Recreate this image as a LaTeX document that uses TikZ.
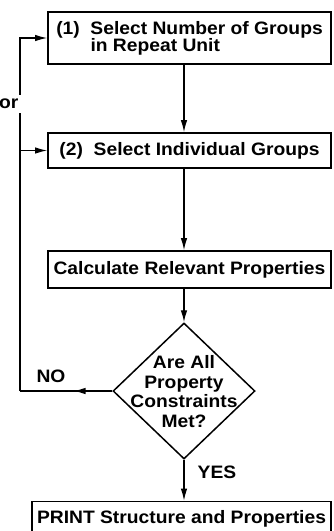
\documentclass[tikz,border=0pt]{standalone}
\usepackage{fontspec}
\setmainfont[FakeStretch=1.07]{Liberation Sans}
\usetikzlibrary{arrows.meta,decorations.markings,shapes.geometric}
\begin{document}
\begin{tikzpicture}[x=1pt,y=-1pt,
  txt/.style={font=\fontsize{18}{17}\selectfont\bfseries},
  box/.style={draw,line width=1.6pt,inner xsep=2pt,inner ysep=0pt,txt},
  conn/.style={line width=1.3pt},
  tip/.style={-{Latex[length=12pt,width=6.5pt]}},
  midtip/.style={decoration={markings,mark=at position 0.42 with {\arrow{Latex[length=12pt,width=6.5pt]}}},postaction=decorate}
]
\useasboundingbox (0,0) rectangle (333,531);
\node[box,align=left,minimum width=283pt,minimum height=52pt] (b1) at (189.5,38)
  {(1)\ \ Select Number of Groups\\\hphantom{(1)\ \ }in Repeat Unit};
\node[box,align=left,minimum width=283pt,minimum height=35pt] (b2) at (189.5,150.5)
  {(2)\ \ Select Individual Groups};
\node[box,align=center,minimum width=283pt,minimum height=37pt] (b3) at (189.5,269.5)
  {Calculate Relevant Properties};
\node[draw,diamond,line width=1.5pt,minimum width=142pt,minimum height=136pt,inner sep=0pt] (q) at (184,391) {};
\node[font=\fontsize{18}{19.5}\selectfont\bfseries,align=center,inner sep=0pt] (qt) at (184,391.5)
  {Are All\\Property\\Constraints\\Met?};
\node[box,align=center,minimum width=299pt,minimum height=34pt] (b4) at (181.5,518.5)
  {PRINT Structure and Properties};
\coordinate (c1) at (20,391);
\coordinate (c3) at (b2.west -| c1);
\draw[conn,tip] (b1.south -| q.center) -- (b2.north -| q.center);
\draw[conn,tip] (b2.south -| q.center) -- (b3.north -| q.center);
\draw[conn,tip] (b3.south -| q.center) -- (q.north);
\draw[conn,tip] (q.south) -- (b4.north -| q.center);
\draw[conn,midtip] (q.west) -- (c1);
\draw[conn,tip] (c1) |- (b1.west);
\draw[conn,tip] (c3) -- (b2.west);
\node[txt,fill=white,inner xsep=3pt,inner ysep=4pt,anchor=east] (or) at (21.5,104) {or};
\node[txt,inner sep=0pt] (no) at (51,376) {NO};
\node[txt,inner sep=0pt] (yes) at (217,472) {YES};
\end{tikzpicture}
\end{document}
